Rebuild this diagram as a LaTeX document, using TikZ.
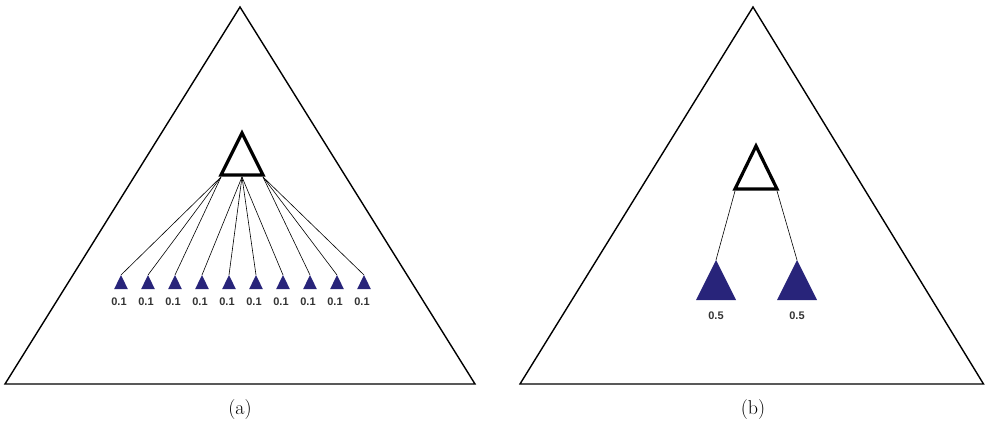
\documentclass[tikz,border=0pt]{standalone}
\usepackage{fontspec}
\newfontfamily\lblfont{Liberation Sans}
\definecolor{navy}{RGB}{40,36,122}
\begin{document}
\begin{tikzpicture}[x=1pt,y=-1pt,
  outer/.style={line width=1.4pt, line join=miter},
  root/.style={line width=3.2pt, line join=miter},
  leaf/.style={fill=navy},
  edge/.style={line width=0.6pt},
  prob/.style={font=\lblfont\bfseries\fontsize{11}{11}\selectfont, text=black!80, inner sep=0pt},
  capt/.style={font=\fontsize{20}{20}\selectfont, inner sep=0pt}]
\useasboundingbox (0,0) rectangle (985,429);
% ---------- panel (a) ----------
\draw[outer] (240,7) -- (475,384) -- (5,384) -- cycle;
\draw[root] (242,133) -- (263,175) -- (221,175) -- cycle;
\coordinate (aL) at (221,177);
\coordinate (aC) at (242,177);
\coordinate (aR) at (263,177);
\foreach \i in {0,...,9}{
  \pgfmathsetmacro{\xx}{121+27*\i}
  \coordinate (t\i) at (\xx,275);
  \fill[leaf] (t\i) -- ++(6.8,14) -- ++(-13.6,0) -- cycle;
  \node[prob] (p\i) at (\xx-2,301.5) {0.1};
}
\foreach \i in {0,1,2}{\draw[edge] (aL) -- (t\i);}
\foreach \i in {3,4,5,6}{\draw[edge] (aC) -- (t\i);}
\foreach \i in {7,8,9}{\draw[edge] (aR) -- (t\i);}
\node[capt] (capa) at (240,410) {(a)};
% ---------- panel (b) ----------
\draw[outer] (753,7) -- (983.5,384) -- (520,384) -- cycle;
\draw[root] (756,146) -- (777,189) -- (735,189) -- cycle;
\coordinate (bL) at (735,191);
\coordinate (bR) at (777,191);
\coordinate (u0) at (716,260);
\coordinate (u1) at (797,260);
\fill[leaf] (u0) -- ++(20,40) -- ++(-40,0) -- cycle;
\fill[leaf] (u1) -- ++(20,40) -- ++(-40,0) -- cycle;
\draw[edge] (bL) -- (u0);
\draw[edge] (bR) -- (u1);
\node[prob] (q0) at (716,316) {0.5};
\node[prob] (q1) at (797,316) {0.5};
\node[capt] (capb) at (753,410) {(b)};
\end{tikzpicture}
\end{document}
